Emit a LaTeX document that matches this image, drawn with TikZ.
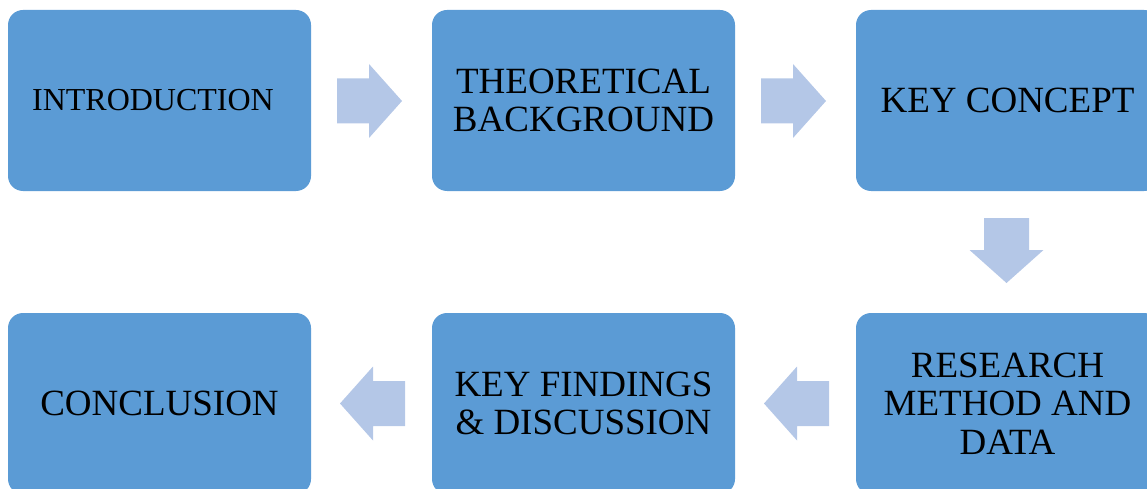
\documentclass[tikz,border=0pt]{standalone}
\usepackage{fontspec}
\setmainfont{Liberation Serif}
\definecolor{boxblue}{HTML}{5B9BD5}
\definecolor{arrowblue}{HTML}{B4C7E7}
\tikzset{
  stagebox/.style={fill=boxblue, rounded corners=15pt, minimum width=303pt, minimum height=181pt,
    inner sep=0pt, align=center, text=black, font=\fontsize{37}{38.5}\selectfont},
  blockarrow/.pic={\fill[arrowblue] (0,-22.5) -- (32,-22.5) -- (32,-37) -- (65,0) -- (32,37) -- (32,22.5) -- (0,22.5) -- cycle;}
}
\begin{document}
\begin{tikzpicture}[x=1pt,y=-1pt]
\useasboundingbox (0,0) rectangle (1147,489);
\clip (0,0) rectangle (1147,489);
\node[stagebox, font=\fontsize{32}{38}\selectfont] (intro) at (159.5,100.5) {INTRODUCTION\hspace*{13pt}};
\node[stagebox] (theory) at (583.5,100.5) {THEORETICAL\\BACKGROUND};
\node[stagebox] (concept) at (1007.5,100.5) {KEY CONCEPT};
\node[stagebox] (method) at (1007.5,403.5) {RESEARCH\\METHOD AND\\DATA};
\node[stagebox] (findings) at (583.5,403.5) {KEY FINDINGS\\\& DISCUSSION};
\node[stagebox] (concl) at (159.5,403.5) {CONCLUSION};
\pic at (337,101) {blockarrow};
\pic at (761,101) {blockarrow};
\pic[rotate=-90] at (1006.5,218) {blockarrow};
\pic[rotate=180] at (829,403.5) {blockarrow};
\pic[rotate=180] at (405,403.5) {blockarrow};
\end{tikzpicture}
\end{document}
